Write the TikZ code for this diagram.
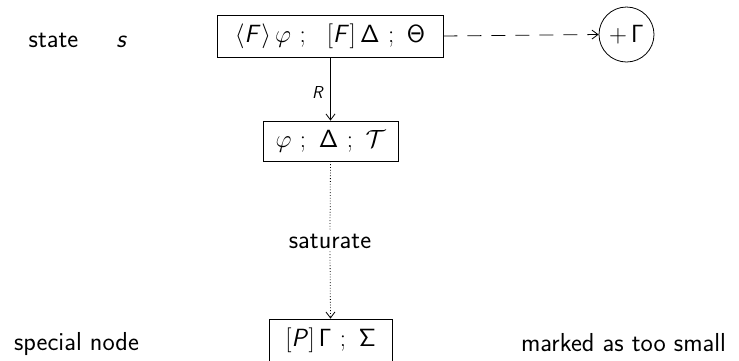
\documentclass[tikz,border=0pt]{standalone}
\usetikzlibrary{arrows.meta}
\DeclareMathAlphabet{\mathsfit}{OT1}{cmss}{m}{sl}
\begin{document}
\begin{tikzpicture}[x=1pt,y=-1pt,
  txt/.style={font=\fontsize{26}{30}\selectfont\sffamily, anchor=base, inner sep=0pt},
  mth/.style={font=\fontsize{28}{32}\selectfont},
  stbox/.style={draw, thick, inner sep=0pt, mth},
  tip/.style={-{Straight Barb[length=6pt,width=9pt]}}]
\useasboundingbox (0,0) rectangle (739,360);
\node[stbox, minimum width=226pt, minimum height=42pt] (top) at (330,36) {$\langle \mathsfit{F}\rangle\,\varphi\ ;\ \ [\mathsfit{F}]\,\mathsf{\Delta}\ ;\ \mathsf{\Theta}$};
\node[stbox, minimum width=135pt, minimum height=40pt] (mid) at (330.5,141) {$\varphi\ ;\ \mathsf{\Delta}\ ;\ \mathcal{T}$};
\node[stbox, minimum width=123pt, minimum height=42pt] (bot) at (330.5,340) {$[\mathsfit{P}]\,\mathsf{\Gamma}\ ;\ \mathsf{\Sigma}$};
\node[draw, thick, circle, minimum size=55pt, inner sep=0pt, mth] (circ) at (626.5,34.5) {$+\,\mathsf{\Gamma}$};
\node[txt] (state) at (53.5,47) {state};
\node[txt] (s) at (121,47) {\itshape s};
\node[txt] (special) at (76.5,350) {special node};
\node[txt] (marked) at (623.5,351) {marked as too small};
\node[txt, inner sep=3pt] (sat) at (330,248) {saturate};
\draw[tip, thick] (top.south -| mid.north) -- node[left, pos=0.55, inner sep=6pt, font=\fontsize{19}{22}\selectfont] {$\mathsfit{R}$} (mid.north);
\draw[dotted, thick] (mid.south) -- (sat.north);
\draw[dotted, thick, tip] (sat.south) -- (bot.north);
\draw[thick, dash pattern=on 14pt off 10pt, tip] (top.east) -- (circ.west);
\end{tikzpicture}
\end{document}
